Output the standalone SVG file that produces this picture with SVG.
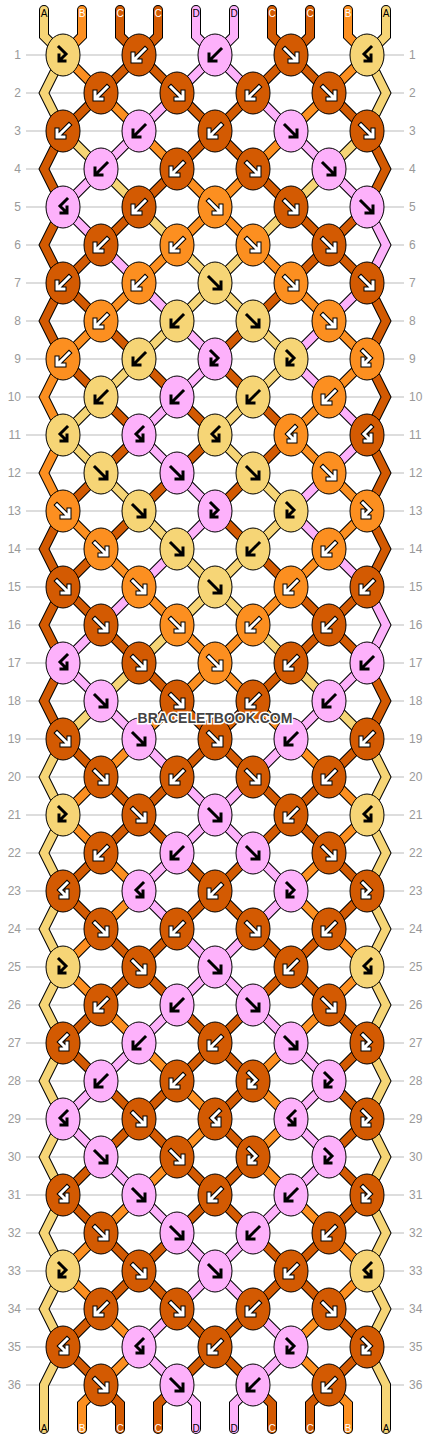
<svg xmlns="http://www.w3.org/2000/svg" xmlns:xlink="http://www.w3.org/1999/xlink" width="430" height="1440" viewBox="0 0 430 1440">
<style>
.a{color:#f6d576;fill:#f6d576}
.b{color:#fc8f20;fill:#fc8f20}
.c{color:#d35a02;fill:#d35a02}
.d{color:#fdb1fb;fill:#fdb1fb}
.to{fill:none;stroke:#000;stroke-width:10;stroke-linejoin:miter}
.tf{fill:none;stroke:currentColor;stroke-width:8;stroke-linejoin:miter}
.so{fill:none;stroke:#000;stroke-width:10;stroke-linecap:round;stroke-linejoin:miter}
.sf{fill:none;stroke-width:8;stroke-linecap:round;stroke-linejoin:miter}
.ao{fill:none;stroke:#000;stroke-width:5;stroke-linecap:square;stroke-linejoin:miter}
.aw{fill:none;stroke:#fff;stroke-width:3;stroke-linecap:square;stroke-linejoin:miter}
.ab{fill:none;stroke:#000;stroke-width:3;stroke-linecap:square;stroke-linejoin:miter}
ellipse{stroke:#000;stroke-width:1}
.n{font-family:"Liberation Sans",Arial,sans-serif;font-size:12px;fill:#999}
.sl{font-family:"Liberation Sans",Arial,sans-serif;font-size:10px;text-anchor:middle}
.wm{font-family:"Liberation Sans",Arial,sans-serif;font-size:14px;font-weight:bold;text-anchor:middle;fill:#444;stroke:#fff;stroke-width:3;paint-order:stroke}
</style>
<defs>
<path id="gF" d="M-6,-6L5,5M6,-1V6H-1"/>
<path id="gB" d="M6,-6L-5,5M-6,-1V6H1"/>
<path id="gFB" d="M-4,-8L3,-1L-3,5M-4,0V6H2"/>
<path id="gBF" d="M4,-8L-3,-1L3,5M4,0V6H-2"/>
<g id="wf"><use href="#gF" class="ao"/><use href="#gF" class="aw"/></g>
<g id="wb"><use href="#gB" class="ao"/><use href="#gB" class="aw"/></g>
<g id="wfb"><use href="#gFB" class="ao"/><use href="#gFB" class="aw"/></g>
<g id="wbf"><use href="#gBF" class="ao"/><use href="#gBF" class="aw"/></g>
<use id="kf" href="#gF" class="ab"/>
<use id="kb" href="#gB" class="ab"/>
<use id="kfb" href="#gFB" class="ab"/>
<use id="kbf" href="#gBF" class="ab"/>
<g id="sr"><path d="M-19,-19L19,19" class="to"/><path d="M-19,-19L19,19" class="tf"/></g>
<g id="sl"><path d="M19,-19L-19,19" class="to"/><path d="M19,-19L-19,19" class="tf"/></g>
<g id="vl"><path d="M19,-38L0,0L19,38" class="to"/><path d="M19,-38L0,0L19,38" class="tf"/></g>
<g id="vr"><path d="M-19,-38L0,0L-19,38" class="to"/><path d="M-19,-38L0,0L-19,38" class="tf"/></g>
</defs>
<rect width="430" height="1440" fill="#fff"/>
<g id="rowlines">
<path d="M26,55H404M26,93H404M26,131H404M26,169H404M26,207H404M26,245H404M26,283H404M26,321H404M26,359H404M26,397H404M26,435H404M26,473H404M26,511H404M26,549H404M26,587H404M26,625H404M26,663H404M26,701H404M26,739H404M26,777H404M26,815H404M26,853H404M26,891H404M26,929H404M26,967H404M26,1005H404M26,1043H404M26,1081H404M26,1119H404M26,1157H404M26,1195H404M26,1233H404M26,1271H404M26,1309H404M26,1347H404M26,1385H404" stroke="#bbb" stroke-width="1" fill="none"/>
</g>
<g id="rowlabels-left" class="n" text-anchor="end">
<text x="21" y="59">1</text><text x="21" y="97">2</text><text x="21" y="135">3</text><text x="21" y="173">4</text><text x="21" y="211">5</text><text x="21" y="249">6</text><text x="21" y="287">7</text><text x="21" y="325">8</text><text x="21" y="363">9</text><text x="21" y="401">10</text><text x="21" y="439">11</text><text x="21" y="477">12</text><text x="21" y="515">13</text><text x="21" y="553">14</text><text x="21" y="591">15</text><text x="21" y="629">16</text><text x="21" y="667">17</text><text x="21" y="705">18</text><text x="21" y="743">19</text><text x="21" y="781">20</text><text x="21" y="819">21</text><text x="21" y="857">22</text><text x="21" y="895">23</text><text x="21" y="933">24</text><text x="21" y="971">25</text><text x="21" y="1009">26</text><text x="21" y="1047">27</text><text x="21" y="1085">28</text><text x="21" y="1123">29</text><text x="21" y="1161">30</text><text x="21" y="1199">31</text><text x="21" y="1237">32</text><text x="21" y="1275">33</text><text x="21" y="1313">34</text><text x="21" y="1351">35</text><text x="21" y="1389">36</text>
</g>
<g id="rowlabels-right" class="n">
<text x="409" y="59">1</text><text x="409" y="97">2</text><text x="409" y="135">3</text><text x="409" y="173">4</text><text x="409" y="211">5</text><text x="409" y="249">6</text><text x="409" y="287">7</text><text x="409" y="325">8</text><text x="409" y="363">9</text><text x="409" y="401">10</text><text x="409" y="439">11</text><text x="409" y="477">12</text><text x="409" y="515">13</text><text x="409" y="553">14</text><text x="409" y="591">15</text><text x="409" y="629">16</text><text x="409" y="667">17</text><text x="409" y="705">18</text><text x="409" y="743">19</text><text x="409" y="781">20</text><text x="409" y="819">21</text><text x="409" y="857">22</text><text x="409" y="895">23</text><text x="409" y="933">24</text><text x="409" y="971">25</text><text x="409" y="1009">26</text><text x="409" y="1047">27</text><text x="409" y="1085">28</text><text x="409" y="1123">29</text><text x="409" y="1161">30</text><text x="409" y="1199">31</text><text x="409" y="1237">32</text><text x="409" y="1275">33</text><text x="409" y="1313">34</text><text x="409" y="1351">35</text><text x="409" y="1389">36</text>
</g>
<g id="connectors">
<g id="strands-top">
<path class="so" d="M44,10V36L63,55M82,10V36L63,55M120,10V36L139,55M158,10V36L139,55M196,10V36L215,55M234,10V36L215,55M272,10V36L291,55M310,10V36L291,55M348,10V36L367,55M386,10V36L367,55"/>
<path class="sf" stroke="#f6d576" d="M44,10V36L63,55M386,10V36L367,55"/>
<path class="sf" stroke="#fc8f20" d="M82,10V36L63,55M348,10V36L367,55"/>
<path class="sf" stroke="#d35a02" d="M120,10V36L139,55M158,10V36L139,55M272,10V36L291,55M310,10V36L291,55"/>
<path class="sf" stroke="#fdb1fb" d="M196,10V36L215,55M234,10V36L215,55"/>
</g>
<g id="strands-bottom">
<path class="so" d="M63,1347L44,1385V1429M101,1385L82,1404V1429M101,1385L120,1404V1429M177,1385L158,1404V1429M177,1385L196,1404V1429M253,1385L234,1404V1429M253,1385L272,1404V1429M329,1385L310,1404V1429M329,1385L348,1404V1429M367,1347L386,1385V1429"/>
<path class="sf" stroke="#f6d576" d="M63,1347L44,1385V1429M367,1347L386,1385V1429"/>
<path class="sf" stroke="#fc8f20" d="M101,1385L82,1404V1429M329,1385L348,1404V1429"/>
<path class="sf" stroke="#d35a02" d="M101,1385L120,1404V1429M177,1385L158,1404V1429M253,1385L272,1404V1429M329,1385L310,1404V1429"/>
<path class="sf" stroke="#fdb1fb" d="M177,1385L196,1404V1429M253,1385L234,1404V1429"/>
</g>
<g id="edges">
<use href="#vl" x="44" y="93" class="a"/><use href="#vr" x="386" y="93" class="a"/>
<use href="#vl" x="44" y="169" class="c"/><use href="#vr" x="386" y="169" class="c"/>
<use href="#vl" x="44" y="245" class="c"/><use href="#vr" x="386" y="245" class="d"/>
<use href="#vl" x="44" y="321" class="c"/><use href="#vr" x="386" y="321" class="c"/>
<use href="#vl" x="44" y="397" class="b"/><use href="#vr" x="386" y="397" class="c"/>
<use href="#vl" x="44" y="473" class="b"/><use href="#vr" x="386" y="473" class="c"/>
<use href="#vl" x="44" y="549" class="c"/><use href="#vr" x="386" y="549" class="c"/>
<use href="#vl" x="44" y="625" class="c"/><use href="#vr" x="386" y="625" class="d"/>
<use href="#vl" x="44" y="701" class="c"/><use href="#vr" x="386" y="701" class="c"/>
<use href="#vl" x="44" y="777" class="a"/><use href="#vr" x="386" y="777" class="a"/>
<use href="#vl" x="44" y="853" class="a"/><use href="#vr" x="386" y="853" class="a"/>
<use href="#vl" x="44" y="929" class="a"/><use href="#vr" x="386" y="929" class="a"/>
<use href="#vl" x="44" y="1005" class="a"/><use href="#vr" x="386" y="1005" class="a"/>
<use href="#vl" x="44" y="1081" class="a"/><use href="#vr" x="386" y="1081" class="a"/>
<use href="#vl" x="44" y="1157" class="a"/><use href="#vr" x="386" y="1157" class="a"/>
<use href="#vl" x="44" y="1233" class="a"/><use href="#vr" x="386" y="1233" class="a"/>
<use href="#vl" x="44" y="1309" class="a"/><use href="#vr" x="386" y="1309" class="a"/>
</g>
<g id="links">
<g transform="translate(0,74)"><use href="#sr" x="82" class="b"/><use href="#sl" x="120" class="c"/><use href="#sr" x="158" class="c"/><use href="#sl" x="196" class="d"/><use href="#sr" x="234" class="d"/><use href="#sl" x="272" class="c"/><use href="#sr" x="310" class="c"/><use href="#sl" x="348" class="b"/></g>
<g transform="translate(0,112)"><use href="#sl" x="82" class="c"/><use href="#sr" x="120" class="b"/><use href="#sl" x="158" class="d"/><use href="#sr" x="196" class="c"/><use href="#sl" x="234" class="c"/><use href="#sr" x="272" class="d"/><use href="#sl" x="310" class="b"/><use href="#sr" x="348" class="c"/></g>
<g transform="translate(0,150)"><use href="#sr" x="82" class="a"/><use href="#sl" x="120" class="d"/><use href="#sr" x="158" class="b"/><use href="#sl" x="196" class="c"/><use href="#sr" x="234" class="c"/><use href="#sl" x="272" class="b"/><use href="#sr" x="310" class="d"/><use href="#sl" x="348" class="a"/></g>
<g transform="translate(0,188)"><use href="#sl" x="82" class="d"/><use href="#sr" x="120" class="a"/><use href="#sl" x="158" class="c"/><use href="#sr" x="196" class="b"/><use href="#sl" x="234" class="b"/><use href="#sr" x="272" class="c"/><use href="#sl" x="310" class="a"/><use href="#sr" x="348" class="d"/></g>
<g transform="translate(0,226)"><use href="#sr" x="82" class="d"/><use href="#sl" x="120" class="c"/><use href="#sr" x="158" class="a"/><use href="#sl" x="196" class="b"/><use href="#sr" x="234" class="b"/><use href="#sl" x="272" class="a"/><use href="#sr" x="310" class="c"/><use href="#sl" x="348" class="c"/></g>
<g transform="translate(0,264)"><use href="#sl" x="82" class="c"/><use href="#sr" x="120" class="d"/><use href="#sl" x="158" class="b"/><use href="#sr" x="196" class="a"/><use href="#sl" x="234" class="a"/><use href="#sr" x="272" class="b"/><use href="#sl" x="310" class="c"/><use href="#sr" x="348" class="c"/></g>
<g transform="translate(0,302)"><use href="#sr" x="82" class="c"/><use href="#sl" x="120" class="b"/><use href="#sr" x="158" class="d"/><use href="#sl" x="196" class="a"/><use href="#sr" x="234" class="a"/><use href="#sl" x="272" class="c"/><use href="#sr" x="310" class="b"/><use href="#sl" x="348" class="d"/></g>
<g transform="translate(0,340)"><use href="#sl" x="82" class="b"/><use href="#sr" x="120" class="c"/><use href="#sl" x="158" class="a"/><use href="#sr" x="196" class="d"/><use href="#sl" x="234" class="c"/><use href="#sr" x="272" class="a"/><use href="#sl" x="310" class="d"/><use href="#sr" x="348" class="b"/></g>
<g transform="translate(0,378)"><use href="#sr" x="82" class="c"/><use href="#sl" x="120" class="a"/><use href="#sr" x="158" class="c"/><use href="#sl" x="196" class="d"/><use href="#sr" x="234" class="c"/><use href="#sl" x="272" class="a"/><use href="#sr" x="310" class="d"/><use href="#sl" x="348" class="b"/></g>
<g transform="translate(0,416)"><use href="#sl" x="82" class="a"/><use href="#sr" x="120" class="c"/><use href="#sl" x="158" class="d"/><use href="#sr" x="196" class="c"/><use href="#sl" x="234" class="a"/><use href="#sr" x="272" class="c"/><use href="#sl" x="310" class="b"/><use href="#sr" x="348" class="d"/></g>
<g transform="translate(0,454)"><use href="#sr" x="82" class="a"/><use href="#sl" x="120" class="c"/><use href="#sr" x="158" class="d"/><use href="#sl" x="196" class="c"/><use href="#sr" x="234" class="a"/><use href="#sl" x="272" class="c"/><use href="#sr" x="310" class="b"/><use href="#sl" x="348" class="d"/></g>
<g transform="translate(0,492)"><use href="#sl" x="82" class="c"/><use href="#sr" x="120" class="a"/><use href="#sl" x="158" class="c"/><use href="#sr" x="196" class="d"/><use href="#sl" x="234" class="c"/><use href="#sr" x="272" class="a"/><use href="#sl" x="310" class="d"/><use href="#sr" x="348" class="b"/></g>
<g transform="translate(0,530)"><use href="#sr" x="82" class="b"/><use href="#sl" x="120" class="c"/><use href="#sr" x="158" class="a"/><use href="#sl" x="196" class="d"/><use href="#sr" x="234" class="c"/><use href="#sl" x="272" class="a"/><use href="#sr" x="310" class="d"/><use href="#sl" x="348" class="b"/></g>
<g transform="translate(0,568)"><use href="#sl" x="82" class="c"/><use href="#sr" x="120" class="b"/><use href="#sl" x="158" class="d"/><use href="#sr" x="196" class="a"/><use href="#sl" x="234" class="a"/><use href="#sr" x="272" class="c"/><use href="#sl" x="310" class="b"/><use href="#sr" x="348" class="d"/></g>
<g transform="translate(0,606)"><use href="#sr" x="82" class="c"/><use href="#sl" x="120" class="d"/><use href="#sr" x="158" class="b"/><use href="#sl" x="196" class="a"/><use href="#sr" x="234" class="a"/><use href="#sl" x="272" class="b"/><use href="#sr" x="310" class="c"/><use href="#sl" x="348" class="c"/></g>
<g transform="translate(0,644)"><use href="#sl" x="82" class="d"/><use href="#sr" x="120" class="c"/><use href="#sl" x="158" class="a"/><use href="#sr" x="196" class="b"/><use href="#sl" x="234" class="b"/><use href="#sr" x="272" class="a"/><use href="#sl" x="310" class="c"/><use href="#sr" x="348" class="c"/></g>
<g transform="translate(0,682)"><use href="#sr" x="82" class="d"/><use href="#sl" x="120" class="a"/><use href="#sr" x="158" class="c"/><use href="#sl" x="196" class="b"/><use href="#sr" x="234" class="b"/><use href="#sl" x="272" class="c"/><use href="#sr" x="310" class="a"/><use href="#sl" x="348" class="d"/></g>
<g transform="translate(0,720)"><use href="#sl" x="82" class="a"/><use href="#sr" x="120" class="d"/><use href="#sl" x="158" class="b"/><use href="#sr" x="196" class="c"/><use href="#sl" x="234" class="c"/><use href="#sr" x="272" class="b"/><use href="#sl" x="310" class="d"/><use href="#sr" x="348" class="a"/></g>
<g transform="translate(0,758)"><use href="#sr" x="82" class="c"/><use href="#sl" x="120" class="b"/><use href="#sr" x="158" class="d"/><use href="#sl" x="196" class="c"/><use href="#sr" x="234" class="c"/><use href="#sl" x="272" class="d"/><use href="#sr" x="310" class="b"/><use href="#sl" x="348" class="c"/></g>
<g transform="translate(0,796)"><use href="#sl" x="82" class="b"/><use href="#sr" x="120" class="c"/><use href="#sl" x="158" class="c"/><use href="#sr" x="196" class="d"/><use href="#sl" x="234" class="d"/><use href="#sr" x="272" class="c"/><use href="#sl" x="310" class="c"/><use href="#sr" x="348" class="b"/></g>
<g transform="translate(0,834)"><use href="#sr" x="82" class="b"/><use href="#sl" x="120" class="c"/><use href="#sr" x="158" class="c"/><use href="#sl" x="196" class="d"/><use href="#sr" x="234" class="d"/><use href="#sl" x="272" class="c"/><use href="#sr" x="310" class="c"/><use href="#sl" x="348" class="b"/></g>
<g transform="translate(0,872)"><use href="#sl" x="82" class="c"/><use href="#sr" x="120" class="b"/><use href="#sl" x="158" class="d"/><use href="#sr" x="196" class="c"/><use href="#sl" x="234" class="c"/><use href="#sr" x="272" class="d"/><use href="#sl" x="310" class="b"/><use href="#sr" x="348" class="c"/></g>
<g transform="translate(0,910)"><use href="#sr" x="82" class="c"/><use href="#sl" x="120" class="b"/><use href="#sr" x="158" class="d"/><use href="#sl" x="196" class="c"/><use href="#sr" x="234" class="c"/><use href="#sl" x="272" class="d"/><use href="#sr" x="310" class="b"/><use href="#sl" x="348" class="c"/></g>
<g transform="translate(0,948)"><use href="#sl" x="82" class="b"/><use href="#sr" x="120" class="c"/><use href="#sl" x="158" class="c"/><use href="#sr" x="196" class="d"/><use href="#sl" x="234" class="d"/><use href="#sr" x="272" class="c"/><use href="#sl" x="310" class="c"/><use href="#sr" x="348" class="b"/></g>
<g transform="translate(0,986)"><use href="#sr" x="82" class="b"/><use href="#sl" x="120" class="c"/><use href="#sr" x="158" class="c"/><use href="#sl" x="196" class="d"/><use href="#sr" x="234" class="d"/><use href="#sl" x="272" class="c"/><use href="#sr" x="310" class="c"/><use href="#sl" x="348" class="b"/></g>
<g transform="translate(0,1024)"><use href="#sl" x="82" class="c"/><use href="#sr" x="120" class="b"/><use href="#sl" x="158" class="d"/><use href="#sr" x="196" class="c"/><use href="#sl" x="234" class="c"/><use href="#sr" x="272" class="d"/><use href="#sl" x="310" class="b"/><use href="#sr" x="348" class="c"/></g>
<g transform="translate(0,1062)"><use href="#sr" x="82" class="c"/><use href="#sl" x="120" class="d"/><use href="#sr" x="158" class="b"/><use href="#sl" x="196" class="c"/><use href="#sr" x="234" class="c"/><use href="#sl" x="272" class="b"/><use href="#sr" x="310" class="d"/><use href="#sl" x="348" class="c"/></g>
<g transform="translate(0,1100)"><use href="#sl" x="82" class="d"/><use href="#sr" x="120" class="c"/><use href="#sl" x="158" class="c"/><use href="#sr" x="196" class="b"/><use href="#sl" x="234" class="c"/><use href="#sr" x="272" class="b"/><use href="#sl" x="310" class="d"/><use href="#sr" x="348" class="c"/></g>
<g transform="translate(0,1138)"><use href="#sr" x="82" class="d"/><use href="#sl" x="120" class="c"/><use href="#sr" x="158" class="c"/><use href="#sl" x="196" class="b"/><use href="#sr" x="234" class="c"/><use href="#sl" x="272" class="b"/><use href="#sr" x="310" class="d"/><use href="#sl" x="348" class="c"/></g>
<g transform="translate(0,1176)"><use href="#sl" x="82" class="c"/><use href="#sr" x="120" class="d"/><use href="#sl" x="158" class="b"/><use href="#sr" x="196" class="c"/><use href="#sl" x="234" class="c"/><use href="#sr" x="272" class="b"/><use href="#sl" x="310" class="d"/><use href="#sr" x="348" class="c"/></g>
<g transform="translate(0,1214)"><use href="#sr" x="82" class="c"/><use href="#sl" x="120" class="b"/><use href="#sr" x="158" class="d"/><use href="#sl" x="196" class="c"/><use href="#sr" x="234" class="c"/><use href="#sl" x="272" class="d"/><use href="#sr" x="310" class="b"/><use href="#sl" x="348" class="c"/></g>
<g transform="translate(0,1252)"><use href="#sl" x="82" class="b"/><use href="#sr" x="120" class="c"/><use href="#sl" x="158" class="c"/><use href="#sr" x="196" class="d"/><use href="#sl" x="234" class="d"/><use href="#sr" x="272" class="c"/><use href="#sl" x="310" class="c"/><use href="#sr" x="348" class="b"/></g>
<g transform="translate(0,1290)"><use href="#sr" x="82" class="b"/><use href="#sl" x="120" class="c"/><use href="#sr" x="158" class="c"/><use href="#sl" x="196" class="d"/><use href="#sr" x="234" class="d"/><use href="#sl" x="272" class="c"/><use href="#sr" x="310" class="c"/><use href="#sl" x="348" class="b"/></g>
<g transform="translate(0,1328)"><use href="#sl" x="82" class="c"/><use href="#sr" x="120" class="b"/><use href="#sl" x="158" class="d"/><use href="#sr" x="196" class="c"/><use href="#sl" x="234" class="c"/><use href="#sr" x="272" class="d"/><use href="#sl" x="310" class="b"/><use href="#sr" x="348" class="c"/></g>
<g transform="translate(0,1366)"><use href="#sr" x="82" class="c"/><use href="#sl" x="120" class="b"/><use href="#sr" x="158" class="d"/><use href="#sl" x="196" class="c"/><use href="#sr" x="234" class="c"/><use href="#sl" x="272" class="d"/><use href="#sr" x="310" class="b"/><use href="#sl" x="348" class="c"/></g>
</g>
</g>
<g id="strand-labels" class="sl">
<text x="44" y="17" fill="#000">A</text><text x="82" y="17" fill="#fff">B</text><text x="120" y="17" fill="#fff">C</text><text x="158" y="17" fill="#fff">C</text><text x="196" y="17" fill="#000">D</text><text x="234" y="17" fill="#000">D</text><text x="272" y="17" fill="#fff">C</text><text x="310" y="17" fill="#fff">C</text><text x="348" y="17" fill="#fff">B</text><text x="386" y="17" fill="#000">A</text>
<text x="44" y="1432" fill="#000">A</text><text x="82" y="1432" fill="#fff">B</text><text x="120" y="1432" fill="#fff">C</text><text x="158" y="1432" fill="#fff">C</text><text x="196" y="1432" fill="#000">D</text><text x="234" y="1432" fill="#000">D</text><text x="272" y="1432" fill="#fff">C</text><text x="310" y="1432" fill="#fff">C</text><text x="348" y="1432" fill="#fff">B</text><text x="386" y="1432" fill="#000">A</text>
</g>
<g id="knots">
<g id="k1-1" transform="translate(63,55)"><ellipse class="a" rx="17" ry="21"/><use href="#kfb"/></g>
<g id="k1-2" transform="translate(139,55)"><ellipse class="c" rx="17" ry="21"/><use href="#wb"/></g>
<g id="k1-3" transform="translate(215,55)"><ellipse class="d" rx="17" ry="21"/><use href="#kb"/></g>
<g id="k1-4" transform="translate(291,55)"><ellipse class="c" rx="17" ry="21"/><use href="#wf"/></g>
<g id="k1-5" transform="translate(367,55)"><ellipse class="a" rx="17" ry="21"/><use href="#kbf"/></g>
<g id="k2-1" transform="translate(101,93)"><ellipse class="c" rx="17" ry="21"/><use href="#wb"/></g>
<g id="k2-2" transform="translate(177,93)"><ellipse class="c" rx="17" ry="21"/><use href="#wf"/></g>
<g id="k2-3" transform="translate(253,93)"><ellipse class="c" rx="17" ry="21"/><use href="#wb"/></g>
<g id="k2-4" transform="translate(329,93)"><ellipse class="c" rx="17" ry="21"/><use href="#wf"/></g>
<g id="k3-1" transform="translate(63,131)"><ellipse class="c" rx="17" ry="21"/><use href="#wb"/></g>
<g id="k3-2" transform="translate(139,131)"><ellipse class="d" rx="17" ry="21"/><use href="#kb"/></g>
<g id="k3-3" transform="translate(215,131)"><ellipse class="c" rx="17" ry="21"/><use href="#wb"/></g>
<g id="k3-4" transform="translate(291,131)"><ellipse class="d" rx="17" ry="21"/><use href="#kf"/></g>
<g id="k3-5" transform="translate(367,131)"><ellipse class="c" rx="17" ry="21"/><use href="#wf"/></g>
<g id="k4-1" transform="translate(101,169)"><ellipse class="d" rx="17" ry="21"/><use href="#kb"/></g>
<g id="k4-2" transform="translate(177,169)"><ellipse class="c" rx="17" ry="21"/><use href="#wb"/></g>
<g id="k4-3" transform="translate(253,169)"><ellipse class="c" rx="17" ry="21"/><use href="#wf"/></g>
<g id="k4-4" transform="translate(329,169)"><ellipse class="d" rx="17" ry="21"/><use href="#kf"/></g>
<g id="k5-1" transform="translate(63,207)"><ellipse class="d" rx="17" ry="21"/><use href="#kbf"/></g>
<g id="k5-2" transform="translate(139,207)"><ellipse class="c" rx="17" ry="21"/><use href="#wb"/></g>
<g id="k5-3" transform="translate(215,207)"><ellipse class="b" rx="17" ry="21"/><use href="#wf"/></g>
<g id="k5-4" transform="translate(291,207)"><ellipse class="c" rx="17" ry="21"/><use href="#wf"/></g>
<g id="k5-5" transform="translate(367,207)"><ellipse class="d" rx="17" ry="21"/><use href="#kf"/></g>
<g id="k6-1" transform="translate(101,245)"><ellipse class="c" rx="17" ry="21"/><use href="#wb"/></g>
<g id="k6-2" transform="translate(177,245)"><ellipse class="b" rx="17" ry="21"/><use href="#wb"/></g>
<g id="k6-3" transform="translate(253,245)"><ellipse class="b" rx="17" ry="21"/><use href="#wf"/></g>
<g id="k6-4" transform="translate(329,245)"><ellipse class="c" rx="17" ry="21"/><use href="#wf"/></g>
<g id="k7-1" transform="translate(63,283)"><ellipse class="c" rx="17" ry="21"/><use href="#wb"/></g>
<g id="k7-2" transform="translate(139,283)"><ellipse class="b" rx="17" ry="21"/><use href="#wb"/></g>
<g id="k7-3" transform="translate(215,283)"><ellipse class="a" rx="17" ry="21"/><use href="#kf"/></g>
<g id="k7-4" transform="translate(291,283)"><ellipse class="b" rx="17" ry="21"/><use href="#wf"/></g>
<g id="k7-5" transform="translate(367,283)"><ellipse class="c" rx="17" ry="21"/><use href="#wf"/></g>
<g id="k8-1" transform="translate(101,321)"><ellipse class="b" rx="17" ry="21"/><use href="#wb"/></g>
<g id="k8-2" transform="translate(177,321)"><ellipse class="a" rx="17" ry="21"/><use href="#kb"/></g>
<g id="k8-3" transform="translate(253,321)"><ellipse class="a" rx="17" ry="21"/><use href="#kf"/></g>
<g id="k8-4" transform="translate(329,321)"><ellipse class="b" rx="17" ry="21"/><use href="#wf"/></g>
<g id="k9-1" transform="translate(63,359)"><ellipse class="b" rx="17" ry="21"/><use href="#wb"/></g>
<g id="k9-2" transform="translate(139,359)"><ellipse class="a" rx="17" ry="21"/><use href="#kb"/></g>
<g id="k9-3" transform="translate(215,359)"><ellipse class="d" rx="17" ry="21"/><use href="#kfb"/></g>
<g id="k9-4" transform="translate(291,359)"><ellipse class="a" rx="17" ry="21"/><use href="#kfb"/></g>
<g id="k9-5" transform="translate(367,359)"><ellipse class="b" rx="17" ry="21"/><use href="#wfb"/></g>
<g id="k10-1" transform="translate(101,397)"><ellipse class="a" rx="17" ry="21"/><use href="#kb"/></g>
<g id="k10-2" transform="translate(177,397)"><ellipse class="d" rx="17" ry="21"/><use href="#kb"/></g>
<g id="k10-3" transform="translate(253,397)"><ellipse class="a" rx="17" ry="21"/><use href="#kb"/></g>
<g id="k10-4" transform="translate(329,397)"><ellipse class="b" rx="17" ry="21"/><use href="#wb"/></g>
<g id="k11-1" transform="translate(63,435)"><ellipse class="a" rx="17" ry="21"/><use href="#kbf"/></g>
<g id="k11-2" transform="translate(139,435)"><ellipse class="d" rx="17" ry="21"/><use href="#kbf"/></g>
<g id="k11-3" transform="translate(215,435)"><ellipse class="a" rx="17" ry="21"/><use href="#kbf"/></g>
<g id="k11-4" transform="translate(291,435)"><ellipse class="b" rx="17" ry="21"/><use href="#wbf"/></g>
<g id="k11-5" transform="translate(367,435)"><ellipse class="c" rx="17" ry="21"/><use href="#wbf"/></g>
<g id="k12-1" transform="translate(101,473)"><ellipse class="a" rx="17" ry="21"/><use href="#kf"/></g>
<g id="k12-2" transform="translate(177,473)"><ellipse class="d" rx="17" ry="21"/><use href="#kf"/></g>
<g id="k12-3" transform="translate(253,473)"><ellipse class="a" rx="17" ry="21"/><use href="#kf"/></g>
<g id="k12-4" transform="translate(329,473)"><ellipse class="b" rx="17" ry="21"/><use href="#wf"/></g>
<g id="k13-1" transform="translate(63,511)"><ellipse class="b" rx="17" ry="21"/><use href="#wf"/></g>
<g id="k13-2" transform="translate(139,511)"><ellipse class="a" rx="17" ry="21"/><use href="#kf"/></g>
<g id="k13-3" transform="translate(215,511)"><ellipse class="d" rx="17" ry="21"/><use href="#kfb"/></g>
<g id="k13-4" transform="translate(291,511)"><ellipse class="a" rx="17" ry="21"/><use href="#kfb"/></g>
<g id="k13-5" transform="translate(367,511)"><ellipse class="b" rx="17" ry="21"/><use href="#wfb"/></g>
<g id="k14-1" transform="translate(101,549)"><ellipse class="b" rx="17" ry="21"/><use href="#wf"/></g>
<g id="k14-2" transform="translate(177,549)"><ellipse class="a" rx="17" ry="21"/><use href="#kf"/></g>
<g id="k14-3" transform="translate(253,549)"><ellipse class="a" rx="17" ry="21"/><use href="#kb"/></g>
<g id="k14-4" transform="translate(329,549)"><ellipse class="b" rx="17" ry="21"/><use href="#wb"/></g>
<g id="k15-1" transform="translate(63,587)"><ellipse class="c" rx="17" ry="21"/><use href="#wf"/></g>
<g id="k15-2" transform="translate(139,587)"><ellipse class="b" rx="17" ry="21"/><use href="#wf"/></g>
<g id="k15-3" transform="translate(215,587)"><ellipse class="a" rx="17" ry="21"/><use href="#kf"/></g>
<g id="k15-4" transform="translate(291,587)"><ellipse class="b" rx="17" ry="21"/><use href="#wb"/></g>
<g id="k15-5" transform="translate(367,587)"><ellipse class="c" rx="17" ry="21"/><use href="#wb"/></g>
<g id="k16-1" transform="translate(101,625)"><ellipse class="c" rx="17" ry="21"/><use href="#wf"/></g>
<g id="k16-2" transform="translate(177,625)"><ellipse class="b" rx="17" ry="21"/><use href="#wf"/></g>
<g id="k16-3" transform="translate(253,625)"><ellipse class="b" rx="17" ry="21"/><use href="#wb"/></g>
<g id="k16-4" transform="translate(329,625)"><ellipse class="c" rx="17" ry="21"/><use href="#wb"/></g>
<g id="k17-1" transform="translate(63,663)"><ellipse class="d" rx="17" ry="21"/><use href="#kbf"/></g>
<g id="k17-2" transform="translate(139,663)"><ellipse class="c" rx="17" ry="21"/><use href="#wf"/></g>
<g id="k17-3" transform="translate(215,663)"><ellipse class="b" rx="17" ry="21"/><use href="#wf"/></g>
<g id="k17-4" transform="translate(291,663)"><ellipse class="c" rx="17" ry="21"/><use href="#wb"/></g>
<g id="k17-5" transform="translate(367,663)"><ellipse class="d" rx="17" ry="21"/><use href="#kb"/></g>
<g id="k18-1" transform="translate(101,701)"><ellipse class="d" rx="17" ry="21"/><use href="#kf"/></g>
<g id="k18-2" transform="translate(177,701)"><ellipse class="c" rx="17" ry="21"/><use href="#wf"/></g>
<g id="k18-3" transform="translate(253,701)"><ellipse class="c" rx="17" ry="21"/><use href="#wb"/></g>
<g id="k18-4" transform="translate(329,701)"><ellipse class="d" rx="17" ry="21"/><use href="#kb"/></g>
<g id="k19-1" transform="translate(63,739)"><ellipse class="c" rx="17" ry="21"/><use href="#wf"/></g>
<g id="k19-2" transform="translate(139,739)"><ellipse class="d" rx="17" ry="21"/><use href="#kf"/></g>
<g id="k19-3" transform="translate(215,739)"><ellipse class="c" rx="17" ry="21"/><use href="#wf"/></g>
<g id="k19-4" transform="translate(291,739)"><ellipse class="d" rx="17" ry="21"/><use href="#kb"/></g>
<g id="k19-5" transform="translate(367,739)"><ellipse class="c" rx="17" ry="21"/><use href="#wb"/></g>
<g id="k20-1" transform="translate(101,777)"><ellipse class="c" rx="17" ry="21"/><use href="#wf"/></g>
<g id="k20-2" transform="translate(177,777)"><ellipse class="c" rx="17" ry="21"/><use href="#wb"/></g>
<g id="k20-3" transform="translate(253,777)"><ellipse class="c" rx="17" ry="21"/><use href="#wf"/></g>
<g id="k20-4" transform="translate(329,777)"><ellipse class="c" rx="17" ry="21"/><use href="#wb"/></g>
<g id="k21-1" transform="translate(63,815)"><ellipse class="a" rx="17" ry="21"/><use href="#kfb"/></g>
<g id="k21-2" transform="translate(139,815)"><ellipse class="c" rx="17" ry="21"/><use href="#wf"/></g>
<g id="k21-3" transform="translate(215,815)"><ellipse class="d" rx="17" ry="21"/><use href="#kf"/></g>
<g id="k21-4" transform="translate(291,815)"><ellipse class="c" rx="17" ry="21"/><use href="#wb"/></g>
<g id="k21-5" transform="translate(367,815)"><ellipse class="a" rx="17" ry="21"/><use href="#kbf"/></g>
<g id="k22-1" transform="translate(101,853)"><ellipse class="c" rx="17" ry="21"/><use href="#wb"/></g>
<g id="k22-2" transform="translate(177,853)"><ellipse class="d" rx="17" ry="21"/><use href="#kb"/></g>
<g id="k22-3" transform="translate(253,853)"><ellipse class="d" rx="17" ry="21"/><use href="#kf"/></g>
<g id="k22-4" transform="translate(329,853)"><ellipse class="c" rx="17" ry="21"/><use href="#wf"/></g>
<g id="k23-1" transform="translate(63,891)"><ellipse class="c" rx="17" ry="21"/><use href="#wbf"/></g>
<g id="k23-2" transform="translate(139,891)"><ellipse class="d" rx="17" ry="21"/><use href="#kbf"/></g>
<g id="k23-3" transform="translate(215,891)"><ellipse class="c" rx="17" ry="21"/><use href="#wb"/></g>
<g id="k23-4" transform="translate(291,891)"><ellipse class="d" rx="17" ry="21"/><use href="#kfb"/></g>
<g id="k23-5" transform="translate(367,891)"><ellipse class="c" rx="17" ry="21"/><use href="#wfb"/></g>
<g id="k24-1" transform="translate(101,929)"><ellipse class="c" rx="17" ry="21"/><use href="#wf"/></g>
<g id="k24-2" transform="translate(177,929)"><ellipse class="c" rx="17" ry="21"/><use href="#wb"/></g>
<g id="k24-3" transform="translate(253,929)"><ellipse class="c" rx="17" ry="21"/><use href="#wf"/></g>
<g id="k24-4" transform="translate(329,929)"><ellipse class="c" rx="17" ry="21"/><use href="#wb"/></g>
<g id="k25-1" transform="translate(63,967)"><ellipse class="a" rx="17" ry="21"/><use href="#kfb"/></g>
<g id="k25-2" transform="translate(139,967)"><ellipse class="c" rx="17" ry="21"/><use href="#wf"/></g>
<g id="k25-3" transform="translate(215,967)"><ellipse class="d" rx="17" ry="21"/><use href="#kf"/></g>
<g id="k25-4" transform="translate(291,967)"><ellipse class="c" rx="17" ry="21"/><use href="#wb"/></g>
<g id="k25-5" transform="translate(367,967)"><ellipse class="a" rx="17" ry="21"/><use href="#kbf"/></g>
<g id="k26-1" transform="translate(101,1005)"><ellipse class="c" rx="17" ry="21"/><use href="#wb"/></g>
<g id="k26-2" transform="translate(177,1005)"><ellipse class="d" rx="17" ry="21"/><use href="#kb"/></g>
<g id="k26-3" transform="translate(253,1005)"><ellipse class="d" rx="17" ry="21"/><use href="#kf"/></g>
<g id="k26-4" transform="translate(329,1005)"><ellipse class="c" rx="17" ry="21"/><use href="#wf"/></g>
<g id="k27-1" transform="translate(63,1043)"><ellipse class="c" rx="17" ry="21"/><use href="#wbf"/></g>
<g id="k27-2" transform="translate(139,1043)"><ellipse class="d" rx="17" ry="21"/><use href="#kb"/></g>
<g id="k27-3" transform="translate(215,1043)"><ellipse class="c" rx="17" ry="21"/><use href="#wb"/></g>
<g id="k27-4" transform="translate(291,1043)"><ellipse class="d" rx="17" ry="21"/><use href="#kf"/></g>
<g id="k27-5" transform="translate(367,1043)"><ellipse class="c" rx="17" ry="21"/><use href="#wfb"/></g>
<g id="k28-1" transform="translate(101,1081)"><ellipse class="d" rx="17" ry="21"/><use href="#kb"/></g>
<g id="k28-2" transform="translate(177,1081)"><ellipse class="c" rx="17" ry="21"/><use href="#wb"/></g>
<g id="k28-3" transform="translate(253,1081)"><ellipse class="c" rx="17" ry="21"/><use href="#wfb"/></g>
<g id="k28-4" transform="translate(329,1081)"><ellipse class="d" rx="17" ry="21"/><use href="#kfb"/></g>
<g id="k29-1" transform="translate(63,1119)"><ellipse class="d" rx="17" ry="21"/><use href="#kbf"/></g>
<g id="k29-2" transform="translate(139,1119)"><ellipse class="c" rx="17" ry="21"/><use href="#wf"/></g>
<g id="k29-3" transform="translate(215,1119)"><ellipse class="c" rx="17" ry="21"/><use href="#wbf"/></g>
<g id="k29-4" transform="translate(291,1119)"><ellipse class="d" rx="17" ry="21"/><use href="#kbf"/></g>
<g id="k29-5" transform="translate(367,1119)"><ellipse class="c" rx="17" ry="21"/><use href="#wfb"/></g>
<g id="k30-1" transform="translate(101,1157)"><ellipse class="d" rx="17" ry="21"/><use href="#kf"/></g>
<g id="k30-2" transform="translate(177,1157)"><ellipse class="c" rx="17" ry="21"/><use href="#wf"/></g>
<g id="k30-3" transform="translate(253,1157)"><ellipse class="c" rx="17" ry="21"/><use href="#wfb"/></g>
<g id="k30-4" transform="translate(329,1157)"><ellipse class="d" rx="17" ry="21"/><use href="#kfb"/></g>
<g id="k31-1" transform="translate(63,1195)"><ellipse class="c" rx="17" ry="21"/><use href="#wbf"/></g>
<g id="k31-2" transform="translate(139,1195)"><ellipse class="d" rx="17" ry="21"/><use href="#kf"/></g>
<g id="k31-3" transform="translate(215,1195)"><ellipse class="c" rx="17" ry="21"/><use href="#wb"/></g>
<g id="k31-4" transform="translate(291,1195)"><ellipse class="d" rx="17" ry="21"/><use href="#kb"/></g>
<g id="k31-5" transform="translate(367,1195)"><ellipse class="c" rx="17" ry="21"/><use href="#wfb"/></g>
<g id="k32-1" transform="translate(101,1233)"><ellipse class="c" rx="17" ry="21"/><use href="#wf"/></g>
<g id="k32-2" transform="translate(177,1233)"><ellipse class="d" rx="17" ry="21"/><use href="#kf"/></g>
<g id="k32-3" transform="translate(253,1233)"><ellipse class="d" rx="17" ry="21"/><use href="#kb"/></g>
<g id="k32-4" transform="translate(329,1233)"><ellipse class="c" rx="17" ry="21"/><use href="#wb"/></g>
<g id="k33-1" transform="translate(63,1271)"><ellipse class="a" rx="17" ry="21"/><use href="#kfb"/></g>
<g id="k33-2" transform="translate(139,1271)"><ellipse class="c" rx="17" ry="21"/><use href="#wf"/></g>
<g id="k33-3" transform="translate(215,1271)"><ellipse class="d" rx="17" ry="21"/><use href="#kf"/></g>
<g id="k33-4" transform="translate(291,1271)"><ellipse class="c" rx="17" ry="21"/><use href="#wb"/></g>
<g id="k33-5" transform="translate(367,1271)"><ellipse class="a" rx="17" ry="21"/><use href="#kbf"/></g>
<g id="k34-1" transform="translate(101,1309)"><ellipse class="c" rx="17" ry="21"/><use href="#wb"/></g>
<g id="k34-2" transform="translate(177,1309)"><ellipse class="c" rx="17" ry="21"/><use href="#wf"/></g>
<g id="k34-3" transform="translate(253,1309)"><ellipse class="c" rx="17" ry="21"/><use href="#wb"/></g>
<g id="k34-4" transform="translate(329,1309)"><ellipse class="c" rx="17" ry="21"/><use href="#wf"/></g>
<g id="k35-1" transform="translate(63,1347)"><ellipse class="c" rx="17" ry="21"/><use href="#wbf"/></g>
<g id="k35-2" transform="translate(139,1347)"><ellipse class="d" rx="17" ry="21"/><use href="#kbf"/></g>
<g id="k35-3" transform="translate(215,1347)"><ellipse class="c" rx="17" ry="21"/><use href="#wb"/></g>
<g id="k35-4" transform="translate(291,1347)"><ellipse class="d" rx="17" ry="21"/><use href="#kfb"/></g>
<g id="k35-5" transform="translate(367,1347)"><ellipse class="c" rx="17" ry="21"/><use href="#wfb"/></g>
<g id="k36-1" transform="translate(101,1385)"><ellipse class="c" rx="17" ry="21"/><use href="#wf"/></g>
<g id="k36-2" transform="translate(177,1385)"><ellipse class="d" rx="17" ry="21"/><use href="#kf"/></g>
<g id="k36-3" transform="translate(253,1385)"><ellipse class="d" rx="17" ry="21"/><use href="#kb"/></g>
<g id="k36-4" transform="translate(329,1385)"><ellipse class="c" rx="17" ry="21"/><use href="#wb"/></g>
</g>
<text class="wm" x="215" y="723">BRACELETBOOK.COM</text>
</svg>
